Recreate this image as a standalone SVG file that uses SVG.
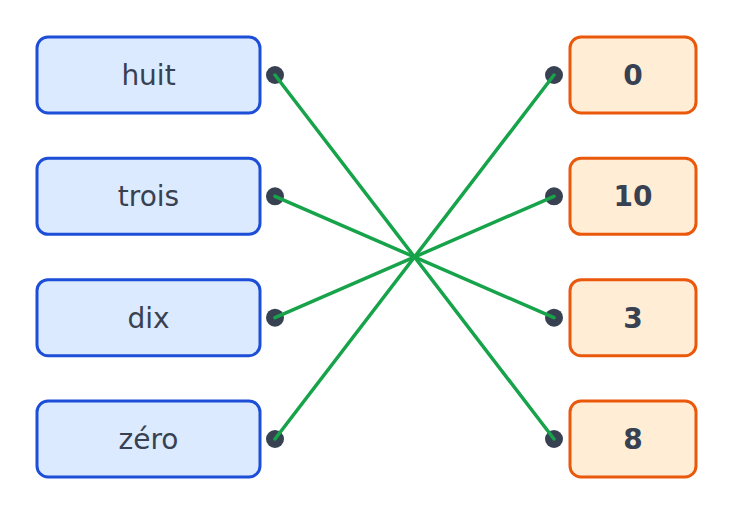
<svg xmlns="http://www.w3.org/2000/svg" width="733" height="515" viewBox="0 0 733 515">
<style>
.l rect{fill:#dbeafe;stroke:#1d4ed8;stroke-width:3}
.r rect{fill:#ffedd5;stroke:#ea580c;stroke-width:3}
text{font-family:"DejaVu Sans",sans-serif;font-size:28px;fill:#374151;text-anchor:middle}
.r text{font-weight:bold}
.dot{fill:#374151}
#connectors line{stroke:#16a34a;stroke-width:3.5;stroke-linecap:round}
</style>
<rect width="733" height="515" fill="#fff"/>
<g id="n-huit" class="l"><rect x="37" y="37" width="223" height="76" rx="11"/><text x="148.5" y="85">huit</text><circle class="dot" cx="275" cy="75" r="9"/></g>
<g id="n-trois" class="l"><rect x="37" y="158.3" width="223" height="76" rx="11"/><text x="148.5" y="206.3">trois</text><circle class="dot" cx="275" cy="196.3" r="9"/></g>
<g id="n-dix" class="l"><rect x="37" y="279.7" width="223" height="76" rx="11"/><text x="148.5" y="327.7">dix</text><circle class="dot" cx="275" cy="317.7" r="9"/></g>
<g id="n-zero" class="l"><rect x="37" y="401" width="223" height="76" rx="11"/><text x="148.5" y="449">zéro</text><circle class="dot" cx="275" cy="439" r="9"/></g>
<g id="n-0" class="r"><rect x="570" y="37" width="126" height="76" rx="11"/><text x="633" y="85">0</text><circle class="dot" cx="554" cy="75" r="9"/></g>
<g id="n-10" class="r"><rect x="570" y="158.3" width="126" height="76" rx="11"/><text x="633" y="206.3">10</text><circle class="dot" cx="554" cy="196.3" r="9"/></g>
<g id="n-3" class="r"><rect x="570" y="279.7" width="126" height="76" rx="11"/><text x="633" y="327.7">3</text><circle class="dot" cx="554" cy="317.7" r="9"/></g>
<g id="n-8" class="r"><rect x="570" y="401" width="126" height="76" rx="11"/><text x="633" y="449">8</text><circle class="dot" cx="554" cy="439" r="9"/></g>
<g id="connectors">
<line x1="275" y1="75" x2="554" y2="439"/>
<line x1="275" y1="196.3" x2="554" y2="317.7"/>
<line x1="275" y1="317.7" x2="554" y2="196.3"/>
<line x1="275" y1="439" x2="554" y2="75"/>
</g>
</svg>
